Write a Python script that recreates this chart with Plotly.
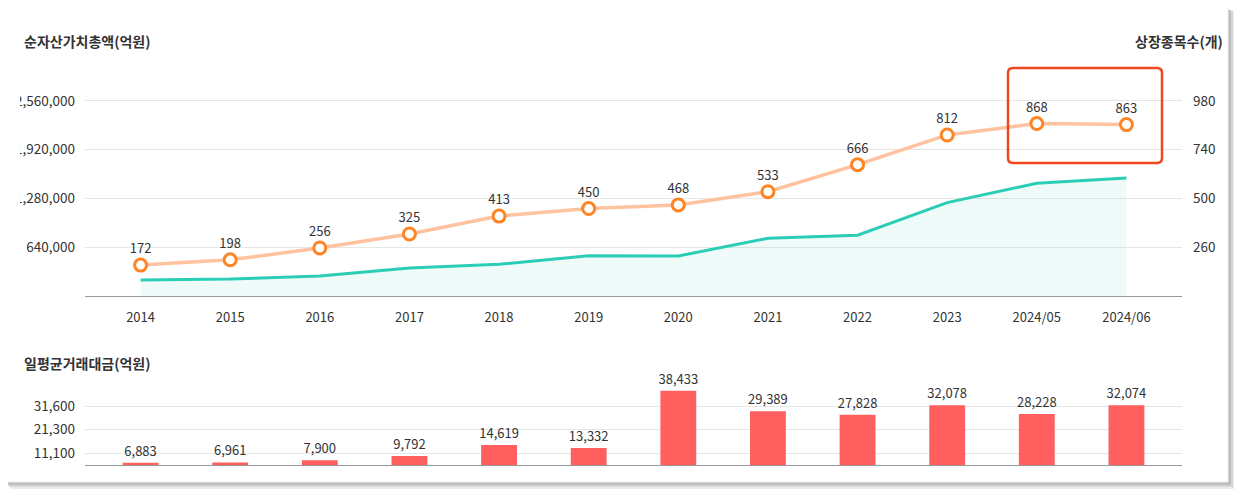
import plotly.graph_objects as go

# ---------------- data ----------------
categories = ["2014", "2015", "2016", "2017", "2018", "2019", "2020", "2021",
              "2022", "2023", "2024/05", "2024/06"]
net_asset_total = [210000, 223000, 262000, 368000, 416000, 529000, 525000,
                   757000, 797000, 1225000, 1479000, 1549000]
listed_count = [172, 198, 256, 325, 413, 450, 468, 533, 666, 812, 868, 863]
daily_trading = [6883, 6961, 7900, 9792, 14619, 13332, 38433, 29389, 27828,
                 32078, 28228, 32074]

left_ticks = [640000, 1280000, 1920000, 2560000]
left_tick_text = ["640,000", "1,280,000", "1,920,000", "2,560,000"]
right_ticks = [260, 500, 740, 980]
right_tick_text = ["260", "500", "740", "980"]
bottom_ticks = [11100, 21300, 31600]
bottom_tick_text = ["11,100", "21,300", "31,600"]

title_left = "순자산가치총액(억원)"
title_right = "상장종목수(개)"
title_bottom = "일평균거래대금(억원)"

# ---------------- layout helpers ----------------
OFF = 8                      # page body margin in the browser
W, H = 1242 - OFF, 496 - OFF
PLOT_L, PLOT_R = 85, 1182    # screen pixels of plot area
ML = PLOT_L - OFF
MR = W - (PLOT_R - OFF)
MT, MB = 0, 0
PW = W - ML - MR
PH = H - MT - MB


def px(x):
    return (x - OFF - ML) / PW


def py(y):
    return (H - MB - (y - OFF)) / PH


FONT = "Noto Sans CJK KR, Noto Sans, sans-serif"
TXT = "#333333"
TICK = 13.5

fig = go.Figure()

fig.add_trace(go.Scatter(
    x=categories, y=net_asset_total, mode="lines",
    line=dict(color="#2ccdb6", width=3),
    fill="tozeroy", fillcolor="rgba(44,205,182,0.08)",
    xaxis="x", yaxis="y", hoverinfo="skip",
))

fig.add_trace(go.Scatter(
    x=categories, y=listed_count, mode="lines+markers+text",
    line=dict(color="#ffc29e", width=3.5),
    marker=dict(size=12, color="white", line=dict(color="#ff8424", width=3)),
    text=[f"{v:,}" for v in listed_count], textposition="top center",
    textfont=dict(size=13, color=TXT, family=FONT),
    xaxis="x", yaxis="y2", cliponaxis=False,
))

fig.add_trace(go.Bar(
    x=categories, y=daily_trading, width=0.4,
    marker=dict(color="#ff5f5f", line=dict(width=0)),
    text=[f"{v:,}" for v in daily_trading], textposition="outside",
    textfont=dict(size=13, color=TXT, family=FONT),
    constraintext="none", cliponaxis=False,
    xaxis="x2", yaxis="y3",
))

top_dom = [py(296), py(52)]
bot_dom = [py(465), py(383)]

fig.update_layout(
    width=W, height=H, template="none",
    margin=dict(l=ML, r=MR, t=MT, b=MB),
    paper_bgcolor="white", plot_bgcolor="rgba(0,0,0,0)",
    showlegend=False,
    font=dict(family=FONT, color=TXT, size=13),
    xaxis=dict(
        type="category", range=[-0.62, 11.62], domain=[0, 1], anchor="y",
        showgrid=False, showline=True, linecolor="#999999", linewidth=1,
        ticks="", tickfont=dict(size=13, color=TXT), ticklabelstandoff=9,
        zeroline=False, automargin=False,
    ),
    yaxis=dict(
        domain=top_dom, range=[0, 3200000], anchor="x",
        tickvals=left_ticks, ticktext=left_tick_text,
        showgrid=True, gridcolor="#e6e6e6", gridwidth=1,
        zeroline=False, showline=False, ticks="",
        tickfont=dict(size=TICK, color=TXT), ticklabelstandoff=9,
        automargin=False,
    ),
    yaxis2=dict(
        overlaying="y", side="right", range=[20, 1220], anchor="x",
        tickvals=right_ticks, ticktext=right_tick_text,
        showgrid=False, zeroline=False, showline=False, ticks="",
        tickfont=dict(size=TICK, color=TXT), ticklabelstandoff=10,
        automargin=False,
    ),
    xaxis2=dict(
        type="category", range=[-0.62, 11.62], domain=[0, 1], anchor="y3",
        showgrid=False, showline=True, linecolor="#999999", linewidth=1,
        showticklabels=False, ticks="", zeroline=False, automargin=False,
    ),
    yaxis3=dict(
        domain=bot_dom, range=[5850, 41800], anchor="x2",
        tickvals=bottom_ticks, ticktext=bottom_tick_text,
        showgrid=True, gridcolor="#e6e6e6", gridwidth=1,
        zeroline=False, showline=False, ticks="",
        tickfont=dict(size=TICK, color=TXT), ticklabelstandoff=9,
        automargin=False,
    ),
)

shapes = []


def rect(x0, y0, x1, y1, fill, line_color=None, layer="below"):
    return dict(type="rect", xref="paper", yref="paper",
                x0=px(x0), x1=px(x1), y0=py(y1), y1=py(y0),
                fillcolor=fill,
                line=dict(width=1 if line_color else 0,
                          color=line_color or "rgba(0,0,0,0)"),
                layer=layer)


# card shadow + card
shapes.append(rect(10, 12, 1235, 489, "#ececec"))
shapes.append(rect(9, 11, 1233, 487, "#d6d6d6"))
shapes.append(rect(8, 10, 1231, 485, "#bdbdbd"))
shapes.append(rect(4, 7, 1228, 482, "white", "#eeeeee"))

# rounded red highlight box
bx0, by0, bx1, by1, r = 1008, 68, 1162, 163, 5
path = (f"M {px(bx0 + r)},{py(by0)} L {px(bx1 - r)},{py(by0)} "
        f"Q {px(bx1)},{py(by0)} {px(bx1)},{py(by0 + r)} "
        f"L {px(bx1)},{py(by1 - r)} "
        f"Q {px(bx1)},{py(by1)} {px(bx1 - r)},{py(by1)} "
        f"L {px(bx0 + r)},{py(by1)} "
        f"Q {px(bx0)},{py(by1)} {px(bx0)},{py(by1 - r)} "
        f"L {px(bx0)},{py(by0 + r)} "
        f"Q {px(bx0)},{py(by0)} {px(bx0 + r)},{py(by0)} Z")
shapes.append(dict(type="path", xref="paper", yref="paper", path=path,
                   line=dict(color="#f1471f", width=2.5), layer="above"))

fig.update_layout(shapes=shapes)

annotations = [
    dict(text=f"<b>{title_left}</b>", x=px(22), y=py(41), xanchor="left",
         yanchor="middle"),
    dict(text=f"<b>{title_right}</b>", x=px(1225), y=py(41), xanchor="right",
         yanchor="middle"),
    dict(text=f"<b>{title_bottom}</b>", x=px(22), y=py(363), xanchor="left",
         yanchor="middle"),
]
for a in annotations:
    a.update(xref="paper", yref="paper", showarrow=False,
             font=dict(size=14, color=TXT, family=FONT))
# white strip that clips the long left tick labels, as in the source card
annotations.append(dict(
    text=" ", xref="paper", yref="paper", x=px(6), y=py(88),
    xanchor="left", yanchor="top", showarrow=False,
    width=14, height=124, bgcolor="white", borderpad=0, borderwidth=0,
))
fig.update_layout(annotations=annotations)

fig.write_html("out.html")
